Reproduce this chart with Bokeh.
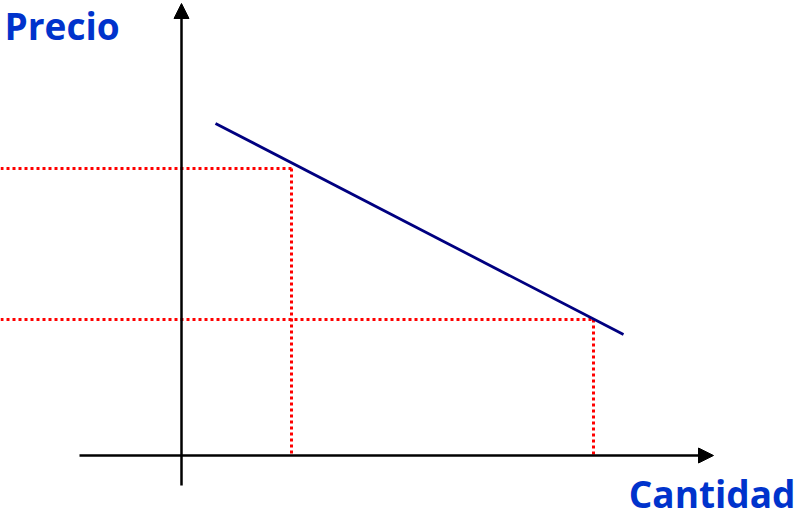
from bokeh.plotting import figure
from bokeh.models import Range1d, Arrow, NormalHead, Label
from bokeh.embed import file_html
from bokeh.resources import INLINE

# ---- data (units, 1 unit ~ 10 px) ----
quantities = [11.0, 41.2]          # Q1, Q2
prices = [28.7, 13.6]              # P1, P2
demand_q = [3.4, 44.2]             # demand line endpoints (quantity)
demand_p = [33.2, 12.1]            # demand line endpoints (price)
x_axis_extent = [-10.2, 53.2]      # horizontal axis (Cantidad)
y_axis_extent = [-3.0, 45.2]       # vertical axis (Precio)
labels = ["Precio", "Cantidad"]

X0, X1 = -18.1, 61.4
Y0, Y1 = -6.5, 45.5

p = figure(width=795, height=520, output_backend="svg", toolbar_location=None,
           x_range=Range1d(X0, X1), y_range=Range1d(Y0, Y1),
           min_border=0, min_border_left=0, min_border_right=0,
           min_border_top=0, min_border_bottom=0)
p.axis.visible = False
p.grid.visible = False
p.outline_line_color = None
p.background_fill_color = "white"
p.border_fill_color = "white"

red = "#ff0000"
# red dotted guides
for q, pr in zip(quantities, prices):
    p.line([X0, q], [pr, pr], line_color=red, line_width=3, line_dash="3 3")
    p.line([q, q], [pr, 0], line_color=red, line_width=3, line_dash="3 3")

# demand line
p.line(demand_q, demand_p, line_color="#000080", line_width=2.8)

# axes with arrow heads
p.add_layout(Arrow(end=NormalHead(size=15, fill_color="black", line_color="black", line_width=1),
                   x_start=x_axis_extent[0], y_start=0, x_end=x_axis_extent[1], y_end=0,
                   line_color="black", line_width=2.5))
p.add_layout(Arrow(end=NormalHead(size=15, fill_color="black", line_color="black", line_width=1),
                   x_start=0, y_start=y_axis_extent[0], x_end=0, y_end=y_axis_extent[1],
                   line_color="black", line_width=2.5))

blue = "#0033cc"
p.add_layout(Label(x=X0 + 0.4, y=43.0, text=labels[0], text_font="Open Sans", text_font_style="bold",
                   text_font_size="37px", text_color=blue, text_align="left",
                   text_baseline="alphabetic"))
p.add_layout(Label(x=X1, y=-3.8, text=labels[1], text_font="Open Sans", text_font_style="bold",
                   text_font_size="37px", text_color=blue, text_align="right",
                   text_baseline="alphabetic"))

open("out.html", "w").write(file_html(p, INLINE))
